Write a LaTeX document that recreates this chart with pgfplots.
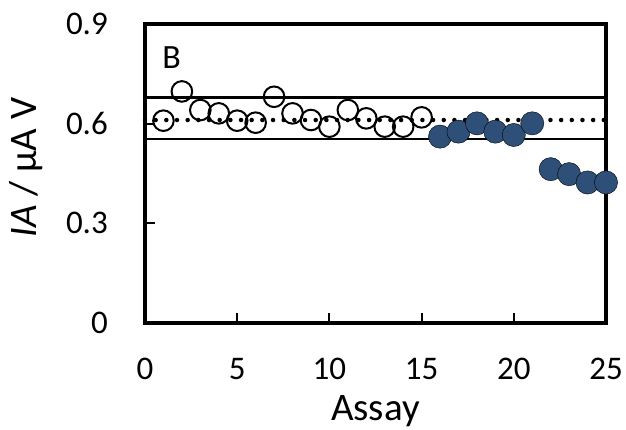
\documentclass[border=0pt]{standalone}
\usepackage{fontspec}
\setmainfont{Carlito}
\usepackage{pgfplots}
\pgfplotsset{compat=1.18}
\definecolor{fillblue}{RGB}{46,80,120}

\begin{document}
\begin{tikzpicture}
\begin{axis}[
    scale only axis,
    width=461pt, height=299pt,
    xmin=0, xmax=25, ymin=0, ymax=0.9,
    xtick={0,5,10,15,20,25},
    ytick={0,0.3,0.6,0.9},
    yticklabels={0,0.3,0.6,0.9},
    /pgf/number format/assume math mode=true,
    tick align=inside, tick pos=left,
    major tick length=10pt,
    tick style={line width=2pt, black},
    axis line style={line width=4pt, line join=miter},
    ticklabel style={font=\fontsize{33}{40}\selectfont, inner sep=0pt},
    xticklabel style={anchor=north, yshift=-35pt},
    yticklabel style={anchor=east, xshift=-37pt},
    label style={font=\fontsize{39}{47}\selectfont, inner sep=0pt},
    xlabel={Assay},
    xlabel style={at={(axis description cs:0.5,0)}, anchor=north, yshift=-72pt},
    ylabel={\textit{IA} / µA V},
    ylabel style={at={(axis description cs:-0.2213,0.52)}, anchor=south},
    clip=false,
]
% limits
\addplot[black, line width=2.2pt] coordinates {(0,0.679) (25,0.679)};
\addplot[black, line width=2.2pt] coordinates {(0,0.553) (25,0.553)};
% assays 1-15 (open)
\addplot[only marks, mark=o, mark size=10.3pt, mark options={line width=2pt, black}] coordinates {
(1,0.609) (2,0.697) (3,0.641) (4,0.631) (5,0.609) (6,0.603) (7,0.681) (8,0.631)
(9,0.611) (10,0.591) (11,0.641) (12,0.616) (13,0.591) (14,0.591) (15,0.619)};
% assays 16-25 (filled)
\addplot[only marks, mark=*, mark size=11.6pt, mark options={draw=none, fill=fillblue}] coordinates {
(16,0.561) (17,0.576) (18,0.601) (19,0.576) (20,0.566) (21,0.601)
(22,0.463) (23,0.448) (24,0.423) (25,0.423)};
% mean
\addplot[black, line width=4.5pt, line cap=round, dash pattern=on 0pt off 10.67pt] coordinates {(0,0.611) (25,0.611)};
\node[font=\fontsize{34}{40}\selectfont] at (axis cs:1.45,0.80) {B};
\end{axis}
\path ([shift={(-145pt,-107pt)}]current axis.south west) rectangle ([shift={(20pt,24pt)}]current axis.north east);
\end{tikzpicture}
\end{document}
